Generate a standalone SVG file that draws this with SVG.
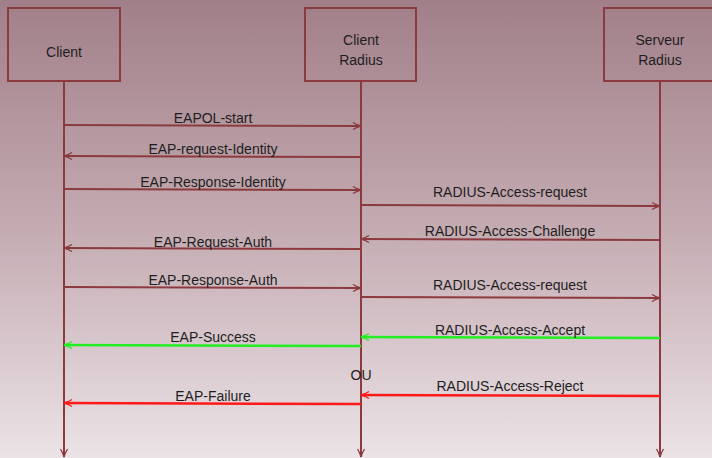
<svg xmlns="http://www.w3.org/2000/svg" width="712" height="458" viewBox="0 0 712 458">
<defs>
<linearGradient id="bg" x1="0" y1="0" x2="0" y2="1">
<stop offset="0" stop-color="#a17f89"/>
<stop offset="0.5" stop-color="#c4abb2"/>
<stop offset="1" stop-color="#ebe3e6"/>
</linearGradient>
<marker id="ah" viewBox="0 0 10 10" refX="9" refY="5" markerWidth="10" markerHeight="10" markerUnits="userSpaceOnUse" orient="auto">
<path d="M1,1.5 Q5,4 9,5 Q5,6 1,8.5" fill="none" stroke="#8b3a3e" stroke-width="1.3"/>
</marker>
<marker id="ahg" viewBox="0 0 10 10" refX="9" refY="5" markerWidth="10" markerHeight="10" markerUnits="userSpaceOnUse" orient="auto">
<path d="M1,1.5 Q5,4 9,5 Q5,6 1,8.5" fill="none" stroke="#22ee22" stroke-width="1.3"/>
</marker>
<marker id="ahr" viewBox="0 0 10 10" refX="9" refY="5" markerWidth="10" markerHeight="10" markerUnits="userSpaceOnUse" orient="auto">
<path d="M1,1.5 Q5,4 9,5 Q5,6 1,8.5" fill="none" stroke="#ff1a1a" stroke-width="1.3"/>
</marker>
</defs>
<style>
.box{fill:none;stroke:#8b3a3e;stroke-width:2}
.life{stroke:#8b3a3e;stroke-width:2;fill:none;marker-end:url(#ah)}
.msg{stroke:#8b3a3e;stroke-width:2;fill:none;marker-end:url(#ah)}
.ok{stroke:#22ee22;stroke-width:2.5;fill:none;marker-end:url(#ahg)}
.ko{stroke:#ff1a1a;stroke-width:2.5;fill:none;marker-end:url(#ahr)}
text{font-family:"Liberation Sans",Arial,sans-serif;font-size:14px;fill:#1e1e1e;text-anchor:middle}
</style>
<rect x="0" y="0" width="712" height="458" fill="url(#bg)"/>
<g id="client">
<rect class="box" x="8" y="8" width="112" height="73"/>
<text x="64" y="57">Client</text>
</g>
<g id="client-radius">
<rect class="box" x="305" y="8" width="111" height="73"/>
<text x="361" y="45">Client</text>
<text x="361" y="65">Radius</text>
</g>
<g id="serveur-radius">
<rect class="box" x="604" y="8" width="112" height="73"/>
<text x="660" y="45">Serveur</text>
<text x="660" y="65">Radius</text>
</g>
<g id="connectors">
<line class="life" x1="64" y1="81" x2="64" y2="457"/>
<line class="life" x1="361" y1="81" x2="361" y2="457"/>
<line class="life" x1="660" y1="81" x2="660" y2="457"/>
<line class="msg" x1="64" y1="125" x2="361" y2="126"/>
<line class="msg" x1="361" y1="157" x2="64" y2="156"/>
<line class="msg" x1="64" y1="189" x2="361" y2="190"/>
<line class="msg" x1="361" y1="205" x2="660" y2="206"/>
<line class="msg" x1="660" y1="240" x2="361" y2="239"/>
<line class="msg" x1="361" y1="249" x2="64" y2="248"/>
<line class="msg" x1="64" y1="287" x2="361" y2="288"/>
<line class="msg" x1="361" y1="297" x2="660" y2="298"/>
<line class="ok" x1="660" y1="338" x2="361" y2="337"/>
<line class="ok" x1="361" y1="346" x2="64" y2="345"/>
<line class="ko" x1="660" y1="396" x2="361" y2="395"/>
<line class="ko" x1="361" y1="404" x2="64" y2="403"/>
</g>
<g id="labels">
<text x="213" y="123">EAPOL-start</text>
<text x="213" y="154">EAP-request-Identity</text>
<text x="213" y="187">EAP-Response-Identity</text>
<text x="510" y="197">RADIUS-Access-request</text>
<text x="510" y="236">RADIUS-Access-Challenge</text>
<text x="213" y="247">EAP-Request-Auth</text>
<text x="213" y="285">EAP-Response-Auth</text>
<text x="510" y="290">RADIUS-Access-request</text>
<text x="510" y="335">RADIUS-Access-Accept</text>
<text x="213" y="342">EAP-Success</text>
<text x="361" y="380">OU</text>
<text x="510" y="391">RADIUS-Access-Reject</text>
<text x="213" y="401">EAP-Failure</text>
</g>
</svg>
